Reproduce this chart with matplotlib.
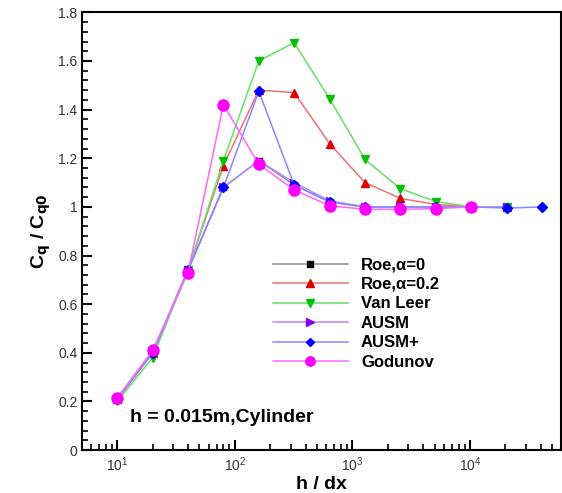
import matplotlib
matplotlib.use('Agg')
import matplotlib.pyplot as plt
from matplotlib.ticker import MultipleLocator, LogLocator, NullFormatter

plt.rcParams['font.family'] = ['Liberation Sans', 'DejaVu Sans']

# grid sizes h/dx
x_all = [10, 20, 40, 80, 160, 320, 640, 1280, 2560, 5120, 10240, 20480, 40960]

roe0 = [0.21, 0.40, 0.74, 1.08, 1.19, 1.09, 1.02, 1.00, 1.00, 1.00, 1.00, 1.00]
roe02 = [0.21, 0.40, 0.74, 1.17, 1.48, 1.47, 1.26, 1.10, 1.035, 1.01, 1.00, 1.00]
van_leer = [0.20, 0.38, 0.74, 1.19, 1.60, 1.675, 1.445, 1.195, 1.075, 1.022, 1.00, 1.00]
ausm = [0.21, 0.40, 0.74, 1.08, 1.19, 1.10, 1.025, 1.00, 1.00, 1.00, 1.00, 1.00]
ausm_plus = [0.21, 0.40, 0.74, 1.08, 1.475, 1.09, 1.02, 1.00, 1.00, 1.00, 1.00, 0.995, 1.00]
godunov = [0.215, 0.41, 0.73, 1.42, 1.175, 1.07, 1.005, 0.99, 0.99, 0.993, 1.00]

series = [
    ('Roe,α=0', roe0, '#909090', 'black', 's', 5),
    ('Roe,α=0.2', roe02, '#f07070', '#dd0000', '^', 6),
    ('Van Leer', van_leer, '#66e066', '#00c000', 'v', 6),
    ('AUSM', ausm, '#b888ff', '#8000ff', '>', 6),
    ('AUSM+', ausm_plus, '#8888ff', '#0000ff', 'D', 5),
    ('Godunov', godunov, '#ff66ff', '#ff00ff', 'o', 8),
]

fig = plt.figure(figsize=(5.62, 4.93), dpi=100)
ax = fig.add_axes([0.1465, 0.087, 0.851, 0.888])

for label, y, lc, mc, m, ms in series:
    ax.plot(x_all[:len(y)], y, color=lc, lw=1.1, marker=m, markersize=ms,
            markerfacecolor=mc, markeredgecolor=mc, label=label)

ax.set_xscale('log')
ax.set_xlim(5.05, 5.9e4)
ax.set_ylim(0, 1.8)

ax.yaxis.set_minor_locator(MultipleLocator(0.04))
ax.set_yticks([0, 0.2, 0.4, 0.6, 0.8, 1.0, 1.2, 1.4, 1.6, 1.8])
ax.set_yticklabels(['0', '0.2', '0.4', '0.6', '0.8', '1', '1.2', '1.4', '1.6', '1.8'])
ax.xaxis.set_major_locator(LogLocator(base=10, numticks=10))
ax.xaxis.set_minor_locator(LogLocator(base=10, subs=range(2, 10), numticks=20))
ax.xaxis.set_minor_formatter(NullFormatter())

ax.tick_params(which='both', direction='in', top=False, right=False,
               labelsize=10, labelcolor='#333333', width=1.2)
ax.tick_params(which='major', length=7, width=1.5)
ax.tick_params(which='minor', length=4)
for s in ax.spines.values():
    s.set_linewidth(1.5)

ax.set_xlabel('h / dx', fontsize=14, fontweight='bold', labelpad=2)
ax.set_ylabel('C$_\\mathbf{q}$ / C$_\\mathbf{q0}$', fontsize=14, fontweight='bold', labelpad=4)

ax.text(0.1, 0.075, 'h = 0.015m,Cylinder', transform=ax.transAxes,
        fontsize=14, fontweight='bold', ha='left', va='center')

ax.legend(loc='upper left', bbox_to_anchor=(0.398, 0.44), frameon=False,
          prop={'weight': 'bold', 'size': 12}, handlelength=4.5, markerscale=0.85,
          handletextpad=0.8, labelspacing=0.27, borderpad=0, borderaxespad=0)

fig.savefig('out.png', dpi=100)
